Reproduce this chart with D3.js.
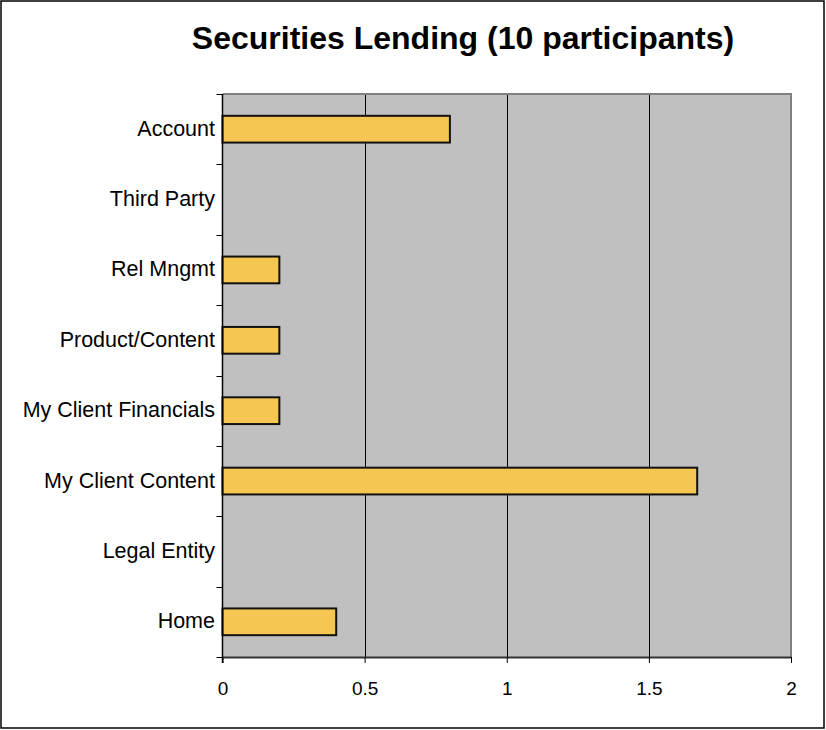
<!DOCTYPE html>
<html>
<head>
<meta charset="utf-8">
<script src="https://cdn.jsdelivr.net/npm/d3@7"></script>
<style>
  html, body { margin: 0; padding: 0; background: #fff; }
  svg { display: block; font-family: Arial, "Liberation Sans", sans-serif; }
</style>
</head>
<body>
<svg id="chart" width="826" height="730"></svg>
<script>
// Survey categories, listed top to bottom
const categories = [
  "Account",
  "Third Party",
  "Rel Mngmt",
  "Product/Content",
  "My Client Financials",
  "My Client Content",
  "Legal Entity",
  "Home"
];
// Average score per category
const values = [0.8, 0, 0.2, 0.2, 0.2, 1.67, 0, 0.4];
const xTicks = [0, 0.5, 1, 1.5, 2];
const xTickLabels = ["0", "0.5", "1", "1.5", "2"];
const title = "Securities Lending (10 participants)";

const svg = d3.select("#chart");
const W = 826, H = 730;
const plot = { left: 222.5, right: 791, top: 94, bottom: 657 };

// Outer frame
svg.append("rect")
  .attr("x", 1).attr("y", 1)
  .attr("width", W - 3).attr("height", H - 3)
  .attr("fill", "#fff").attr("stroke", "#000").attr("stroke-width", 1.5);

const x = d3.scaleLinear().domain([0, 2]).range([plot.left, plot.right]);
const y = d3.scaleBand().domain(categories)
  .range([plot.top, plot.bottom])
  .paddingInner(0.62).paddingOuter(0.31);
const yEdges = d3.scaleBand().domain(categories).range([plot.top, plot.bottom]);

// Plot background
svg.append("rect")
  .attr("x", plot.left).attr("y", plot.top)
  .attr("width", plot.right - plot.left).attr("height", plot.bottom - plot.top)
  .attr("fill", "#c0c0c0");

// Vertical gridlines
svg.append("g").selectAll("line")
  .data(xTicks.filter(t => t > 0 && t < 2))
  .join("line")
  .attr("x1", d => Math.round(x(d)) + 0.5).attr("x2", d => Math.round(x(d)) + 0.5)
  .attr("y1", plot.top).attr("y2", plot.bottom)
  .attr("stroke", "#000").attr("stroke-width", 1);

// Plot border (top and right)
svg.append("path")
  .attr("d", `M${plot.left},${plot.top}H${plot.right}V${plot.bottom}`)
  .attr("fill", "none").attr("stroke", "#808080").attr("stroke-width", 2);

// Bars
svg.append("g").selectAll("rect")
  .data(categories.map((c, i) => ({ c, v: values[i] })))
  .join("rect")
  .attr("x", x(0))
  .attr("y", d => y(d.c))
  .attr("width", d => x(d.v) - x(0))
  .attr("height", y.bandwidth())
  .attr("fill", "#f6c652")
  .attr("stroke", "#111")
  .attr("stroke-width", 2);

// Bottom axis
const xAxis = d3.axisBottom(x)
  .tickValues(xTicks)
  .tickFormat((d, i) => xTickLabels[i])
  .tickSize(6).tickSizeOuter(0);
const gx = svg.append("g")
  .attr("transform", `translate(0,${plot.bottom})`)
  .call(xAxis);
gx.select(".domain").attr("stroke", "#333").attr("stroke-width", 2);
gx.selectAll(".tick line").attr("stroke", "#000");
gx.selectAll(".tick text")
  .attr("y", 38).attr("dy", null)
  .attr("font-size", 19).attr("fill", "#000")
  .attr("font-family", "Arial, 'Liberation Sans', sans-serif");

// Left axis: ticks at category boundaries
const gy = svg.append("g");
gy.append("line")
  .attr("x1", plot.left).attr("x2", plot.left)
  .attr("y1", plot.top).attr("y2", plot.bottom + 6)
  .attr("stroke", "#000").attr("stroke-width", 1.5);
const edges = categories.map(c => yEdges(c)).concat([plot.bottom]);
gy.selectAll("line.edge")
  .data(edges)
  .join("line").attr("class", "edge")
  .attr("x1", plot.left - 6).attr("x2", plot.left)
  .attr("y1", d => Math.round(d) + 0.5).attr("y2", d => Math.round(d) + 0.5)
  .attr("stroke", "#000").attr("stroke-width", 1);
gy.selectAll("text")
  .data(categories)
  .join("text")
  .attr("x", 215)
  .attr("y", d => yEdges(d) + yEdges.bandwidth() / 2)
  .attr("dy", "0.3em")
  .attr("text-anchor", "end")
  .attr("font-size", 21.5)
  .attr("fill", "#000")
  .text(d => d);

// Title
svg.append("text")
  .attr("x", 463).attr("y", 49)
  .attr("text-anchor", "middle")
  .attr("font-size", 32).attr("font-weight", "bold")
  .attr("fill", "#000")
  .text(title);
</script>
</body>
</html>
